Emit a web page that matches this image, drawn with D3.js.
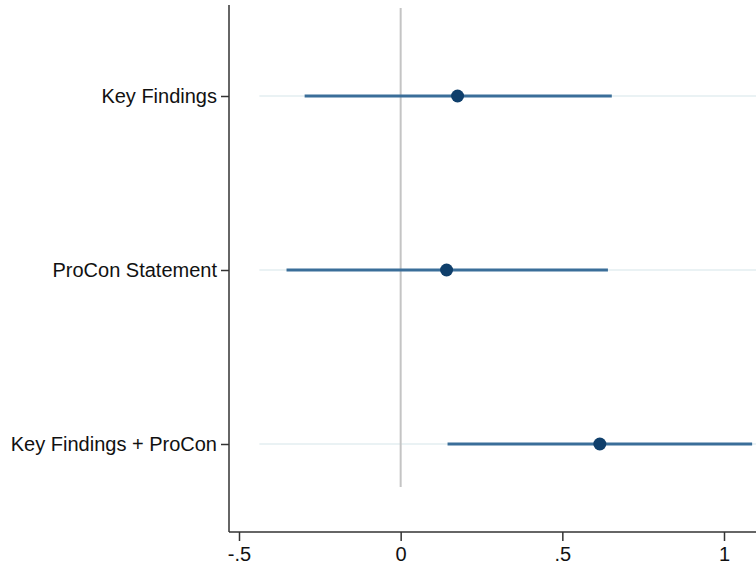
<!DOCTYPE html>
<html><head><meta charset="utf-8">
<script src="https://cdn.jsdelivr.net/npm/d3@7"></script>
<style>body{margin:0;background:#fff}svg{display:block}text{font-family:"Liberation Sans",Arial,sans-serif}</style>
</head><body><svg id="c" width="756" height="565"></svg>
<script>
const categories = ["Key Findings", "ProCon Statement", "Key Findings + ProCon"];
const estimates = [0.176, 0.142, 0.616];
const ciLow = [-0.297, -0.353, 0.145];
const ciHigh = [0.653, 0.641, 1.087];
const xTicks = [-0.5, 0, 0.5, 1];
const xTickLabels = ["-.5", "0", ".5", "1"];
const refStart = -0.437;

(function () {
const svg = d3.select("#c");
const plotLeft = 229, plotRight = 756, plotTop = 5, plotBottom = 532;
const x = d3.scaleLinear().domain([-0.5, 1]).range([239, 724]);
const y = d3.scalePoint().domain(categories).range([96, 444]);

// faint reference lines
svg.append("g").selectAll("line").data(categories).join("line")
  .attr("x1", x(refStart)).attr("x2", plotRight)
  .attr("y1", d => y(d)).attr("y2", d => y(d))
  .attr("stroke", "#eaf2f4").attr("stroke-width", 2);

// zero line
svg.append("line").attr("x1", x(0)).attr("x2", x(0)).attr("y1", 8).attr("y2", 487)
  .attr("stroke", "#c4c4c4").attr("stroke-width", 2);

// CIs
svg.append("g").selectAll("line").data(categories).join("line")
  .attr("x1", (d, i) => x(ciLow[i])).attr("x2", (d, i) => x(ciHigh[i]))
  .attr("y1", d => y(d)).attr("y2", d => y(d))
  .attr("stroke", "#3a6e99").attr("stroke-width", 3);

// points
svg.append("g").selectAll("circle").data(categories).join("circle")
  .attr("cx", (d, i) => x(estimates[i])).attr("cy", d => y(d)).attr("r", 6.5)
  .attr("fill", "#0f3f6b");

// axes
const xAxis = d3.axisBottom(x).tickValues(xTicks).tickFormat((d, i) => xTickLabels[i]).tickSize(9).tickSizeOuter(0);
const gx = svg.append("g").attr("transform", `translate(0,${plotBottom})`).call(xAxis);
gx.select(".domain").remove();
gx.append("line").attr("x1", plotLeft).attr("x2", plotRight).attr("stroke", "#333").attr("stroke-width", 1.5);
gx.selectAll(".tick line").attr("stroke", "#333").attr("stroke-width", 1.5);
gx.selectAll(".tick text").attr("font-size", 20).attr("fill", "#111").attr("y", 11).attr("dy", "0.9em");

const yAxis = d3.axisLeft(y).tickSize(8).tickPadding(4);
const gy = svg.append("g").attr("transform", `translate(${plotLeft},0)`).call(yAxis);
gy.select(".domain").remove();
gy.append("line").attr("y1", plotTop).attr("y2", plotBottom).attr("stroke", "#333").attr("stroke-width", 1.5);
gy.selectAll(".tick line").attr("stroke", "#333").attr("stroke-width", 1.5);
gy.selectAll(".tick text").attr("font-size", 20).attr("fill", "#111");
})();
</script></body></html>
